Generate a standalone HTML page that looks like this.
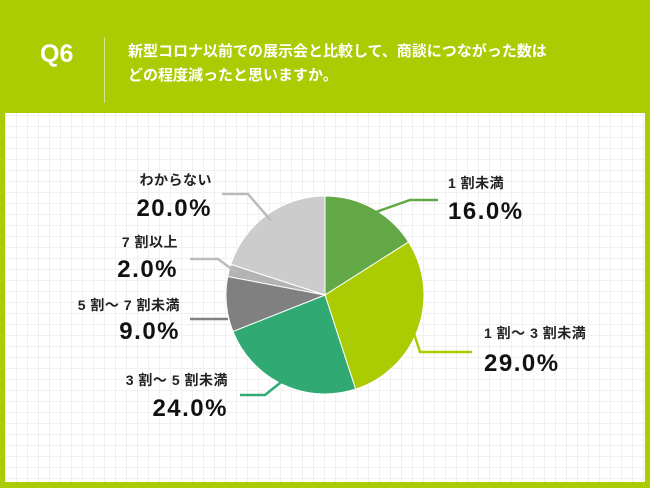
<!DOCTYPE html>
<html><head><meta charset="utf-8"><style>
body{margin:0;width:650px;height:488px;background:#abcb03;position:relative;overflow:hidden;font-family:"Liberation Sans","Noto Sans CJK JP",sans-serif}
.q{position:absolute;left:40px;top:40px;color:#fff;font-size:25px;font-weight:bold}
.div{position:absolute;left:104px;top:37px;width:1px;height:66px;background:#d7e58a}
.title{position:absolute;left:128px;top:40px;color:#fff;font-size:15px;line-height:24px;font-weight:bold;width:500px}
.panel{position:absolute;left:5px;top:113px;width:640px;height:369px;background-color:#fff;background-image:linear-gradient(#f0f0f0 1px,transparent 1px),linear-gradient(90deg,#f0f0f0 1px,transparent 1px);background-size:11px 11px;background-position:0 2px}
svg{position:absolute;left:0;top:0}
</style></head><body>
<div class="q">Q6</div>
<div class="div"></div>
<div class="title">新型コロナ以前での展示会と比較して、商談につながった数は<br>どの程度減ったと思いますか。</div>
<div class="panel"></div>
<svg id="chart" width="650" height="488"></svg>
<script>
const categories=["1 割未満","1 割～ 3 割未満","3 割～ 5 割未満","5 割～ 7 割未満","7 割以上","わからない"];
const values=[16.0,29.0,24.0,9.0,2.0,20.0];
const valueLabels=["16.0%","29.0%","24.0%","9.0%","2.0%","20.0%"];
const colors=["#62a846","#abcb03","#30aa72","#808080","#b3b3b3","#cccccc"];
const cx=325,cy=295,r=99;
const label={0:{x:448,y1:183,y2:210,a:"start",lc:[[438,200],[410,200]]},
1:{x:484,y1:333,y2:362,a:"start",lc:[[472,352],[420,352]]},
2:{x:228,y1:380,y2:407,a:"end",lc:[[240,395],[265,395]]},
3:{x:180,y1:305,y2:330,a:"end",lc:[[190,319],[228,319]],flat:true},
4:{x:178,y1:242,y2:268,a:"end",lc:[[190,259],[218,259]]},
5:{x:212,y1:180,y2:207,a:"end",lc:[[222,194],[248,194]]}};
const svg=document.getElementById('chart');const NS="http://www.w3.org/2000/svg";
const total=values.reduce((a,b)=>a+b,0);
function pt(ang,rr){return [cx+rr*Math.sin(ang),cy-rr*Math.cos(ang)];}
let acc=0;
values.forEach((v,i)=>{
 const a0=acc/total*2*Math.PI;acc+=v;const a1=acc/total*2*Math.PI;
 const p0=pt(a0,r),p1=pt(a1,r);
 const path=document.createElementNS(NS,'path');
 path.setAttribute('d',`M${cx},${cy}L${p0[0]},${p0[1]}A${r},${r} 0 ${a1-a0>Math.PI?1:0} 1 ${p1[0]},${p1[1]}Z`);
 path.setAttribute('fill',colors[i]);path.setAttribute('stroke','#fff');path.setAttribute('stroke-width','1');
 
 
 svg.appendChild(path);
 const L=label[i];const pe=pt((a0+a1)/2,r*0.93);
 const list=L.lc.map(p=>p.join(','));
 if(!L.flat)list.push(pe.join(','));
 const pl=document.createElementNS(NS,'polyline');
 pl.setAttribute('points',list.join(' '));pl.setAttribute('fill','none');pl.setAttribute('stroke',i==3?'#808080':(i>=4?'#bbb':colors[i]));pl.setAttribute('stroke-width','2.5');
 
 
 svg.appendChild(pl);
 const t1=document.createElementNS(NS,'text');
 t1.setAttribute('x',L.x);t1.setAttribute('y',L.y1+5);t1.setAttribute('text-anchor',L.a);
 t1.setAttribute('font-size','14');t1.setAttribute('font-weight','bold');t1.setAttribute('fill','#222');t1.setAttribute('letter-spacing','0.5');
 t1.textContent=categories[i];
 
 
 svg.appendChild(t1);
 const t2=document.createElementNS(NS,'text');
 t2.setAttribute('x',L.x);t2.setAttribute('y',L.y2+9);t2.setAttribute('text-anchor',L.a);
 t2.setAttribute('font-size','24');t2.setAttribute('font-weight','bold');t2.setAttribute('fill','#111');t2.setAttribute('letter-spacing','1.5');
 t2.textContent=valueLabels[i];
 
 
 svg.appendChild(t2);
});
</script>
</body></html>
